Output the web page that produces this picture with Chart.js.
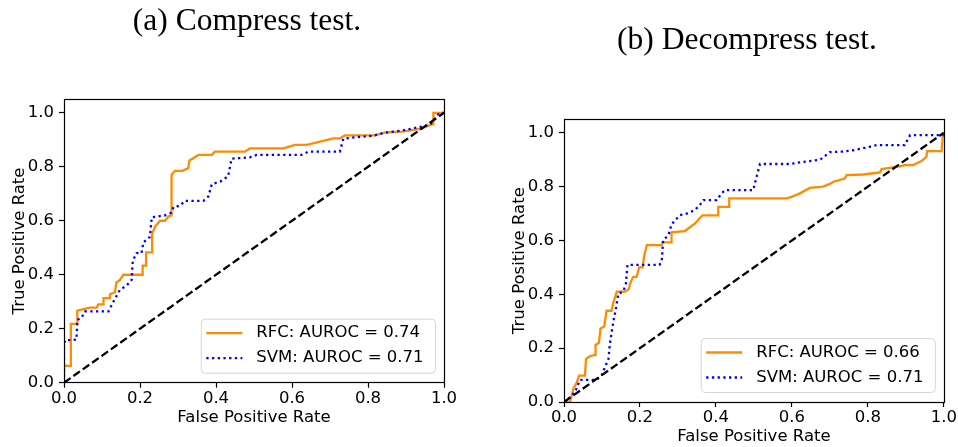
<!DOCTYPE html>
<html>
<head>
<meta charset="utf-8">
<script src="https://cdn.jsdelivr.net/npm/chart.js@4.4.1/dist/chart.umd.min.js"></script>
<style>
  body { margin: 0; background: #fff; width: 958px; height: 447px; overflow: hidden; }
  .title { position: absolute; width: 400px; text-align: center; font-family: "Liberation Serif", serif; font-size: 31.5px; line-height: 31px; color: #000; z-index: 2; }
  .box { position: absolute; top: 0; width: 479px; height: 447px; }
</style>
</head>
<body>
<div class="title" style="left:47px;top:4px">(a) Compress test.</div>
<div class="title" style="left:547px;top:23px">(b) Decompress test.</div>
<div class="box" style="left:0"><canvas id="chartA"></canvas></div>
<div class="box" style="left:479px"><canvas id="chartB"></canvas></div>
<script>
// ROC curves (false positive rate / true positive rate)
const compressRfcFpr = [0, 0, 0.018, 0.018, 0.035, 0.035, 0.068, 0.086, 0.09, 0.104, 0.104, 0.121, 0.121, 0.134, 0.138, 0.147, 0.156, 0.207, 0.207, 0.216, 0.216, 0.232, 0.232, 0.240, 0.253, 0.266, 0.275, 0.283, 0.283, 0.292, 0.312, 0.327, 0.33, 0.354, 0.389, 0.397, 0.476, 0.489, 0.577, 0.608, 0.639, 0.709, 0.726, 0.739, 0.818, 0.849, 0.889, 0.937, 0.968, 0.972, 0.972, 1.0];
const compressRfcTpr = [0, 0.062, 0.062, 0.218, 0.218, 0.267, 0.278, 0.278, 0.29, 0.29, 0.313, 0.313, 0.328, 0.335, 0.372, 0.38, 0.40, 0.40, 0.434, 0.434, 0.483, 0.483, 0.552, 0.579, 0.60, 0.60, 0.616, 0.62, 0.771, 0.785, 0.785, 0.795, 0.823, 0.844, 0.844, 0.856, 0.856, 0.868, 0.868, 0.881, 0.881, 0.905, 0.905, 0.916, 0.916, 0.928, 0.93, 0.94, 0.957, 0.957, 1.0, 1.0];
const compressSvmFpr = [0, 0, 0.003, 0.02, 0.033, 0.035, 0.046, 0.055, 0.117, 0.13, 0.147, 0.165, 0.178, 0.181, 0.191, 0.204, 0.209, 0.226, 0.231, 0.266, 0.283, 0.288, 0.305, 0.318, 0.367, 0.38, 0.389, 0.411, 0.432, 0.441, 0.489, 0.507, 0.625, 0.643, 0.726, 0.735, 0.77, 0.814, 0.84, 0.893, 0.928, 0.963, 0.981, 0.989, 1.0];
const compressSvmTpr = [0, 0.14, 0.158, 0.158, 0.16, 0.233, 0.24, 0.264, 0.264, 0.30, 0.344, 0.36, 0.381, 0.452, 0.48, 0.48, 0.52, 0.54, 0.613, 0.62, 0.63, 0.651, 0.655, 0.674, 0.674, 0.69, 0.736, 0.745, 0.765, 0.83, 0.835, 0.844, 0.844, 0.856, 0.856, 0.904, 0.91, 0.915, 0.925, 0.935, 0.945, 0.955, 0.988, 1.0, 1.0];

const decompressRfcFpr = [0, 0.016, 0.025, 0.033, 0.04, 0.055, 0.058, 0.068, 0.082, 0.083, 0.092, 0.096, 0.106, 0.112, 0.125, 0.13, 0.139, 0.161, 0.171, 0.174, 0.182, 0.191, 0.198, 0.207, 0.211, 0.218, 0.257, 0.260, 0.283, 0.283, 0.318, 0.345, 0.364, 0.406, 0.406, 0.435, 0.435, 0.586, 0.599, 0.621, 0.647, 0.682, 0.70, 0.709, 0.739, 0.744, 0.788, 0.832, 0.836, 0.884, 0.897, 0.919, 0.941, 0.954, 0.956, 0.994, 0.998, 1.0];
const decompressRfcTpr = [0, 0, 0.051, 0.07, 0.098, 0.098, 0.16, 0.17, 0.175, 0.212, 0.22, 0.273, 0.28, 0.339, 0.339, 0.369, 0.41, 0.41, 0.42, 0.44, 0.465, 0.465, 0.5, 0.5, 0.542, 0.583, 0.583, 0.593, 0.593, 0.63, 0.635, 0.663, 0.693, 0.693, 0.725, 0.725, 0.756, 0.756, 0.762, 0.775, 0.795, 0.80, 0.81, 0.818, 0.83, 0.843, 0.845, 0.853, 0.865, 0.875, 0.88, 0.88, 0.895, 0.91, 0.932, 0.932, 1.0, 1.0];
const decompressSvmFpr = [0, 0.007, 0.02, 0.033, 0.042, 0.086, 0.099, 0.108, 0.117, 0.121, 0.130, 0.137, 0.143, 0.156, 0.163, 0.167, 0.251, 0.257, 0.261, 0.275, 0.283, 0.305, 0.323, 0.34, 0.354, 0.367, 0.402, 0.415, 0.424, 0.498, 0.507, 0.516, 0.595, 0.621, 0.647, 0.674, 0.70, 0.735, 0.761, 0.796, 0.823, 0.897, 0.911, 1.0];
const decompressSvmTpr = [0, 0.01, 0.02, 0.05, 0.082, 0.082, 0.1, 0.13, 0.16, 0.218, 0.30, 0.35, 0.402, 0.41, 0.44, 0.509, 0.509, 0.52, 0.601, 0.62, 0.66, 0.694, 0.70, 0.71, 0.725, 0.75, 0.75, 0.775, 0.787, 0.787, 0.837, 0.884, 0.884, 0.89, 0.895, 0.90, 0.928, 0.93, 0.935, 0.945, 0.954, 0.954, 0.991, 0.991];

const chanceLine = [0, 1];
const xTicks = [0, 0.2, 0.4, 0.6, 0.8, 1.0];
const yTicks = [0, 0.2, 0.4, 0.6, 0.8, 1.0];
const labelsA = ['RFC: AUROC = 0.74', 'SVM: AUROC = 0.71'];
const labelsB = ['RFC: AUROC = 0.66', 'SVM: AUROC = 0.71'];

const FONT = '"DejaVu Sans", sans-serif';
const SIZE = 16.5;

function toPoints(xs, ys) {
  return xs.map((x, i) => ({ x: x, y: ys[i] }));
}

// black box round the plot area, like matplotlib spines
const frame = {
  id: 'frame',
  afterDatasetsDraw(chart) {
    const a = chart.chartArea;
    const ctx = chart.ctx;
    ctx.save();
    ctx.strokeStyle = '#000';
    ctx.lineWidth = 1.2;
    ctx.strokeRect(Math.round(a.left) + 0.5, Math.round(a.top) + 0.5, Math.round(a.width), Math.round(a.height));
    ctx.restore();
  }
};

// legend drawn inside the lower right corner of the plot
const insideLegend = {
  id: 'insideLegend',
  afterDraw(chart) {
    const ctx = chart.ctx;
    const a = chart.chartArea;
    const items = chart.data.datasets.filter(d => d.label);
    ctx.save();
    ctx.font = SIZE + 'px ' + FONT;
    const textW = Math.max(...items.map(d => ctx.measureText(d.label).width));
    const w = 55 + textW + 12, h = 54;
    const x0 = a.right - 8.5 - w, y0 = a.bottom - 9.5 - h;
    ctx.beginPath();
    ctx.roundRect(x0, y0, w, h, 4);
    ctx.fillStyle = 'rgba(255,255,255,0.8)';
    ctx.fill();
    ctx.strokeStyle = 'rgba(204,204,204,0.8)';
    ctx.lineWidth = 1;
    ctx.stroke();
    items.forEach((d, i) => {
      const y = y0 + 14 + i * 25;
      ctx.beginPath();
      ctx.setLineDash(d.borderDash || []);
      ctx.strokeStyle = d.borderColor;
      ctx.lineWidth = d.borderWidth;
      ctx.moveTo(x0 + 5, y);
      ctx.lineTo(x0 + 41, y);
      ctx.stroke();
      ctx.setLineDash([]);
      ctx.fillStyle = '#000';
      ctx.textBaseline = 'middle';
      ctx.textAlign = 'left';
      ctx.fillText(d.label, x0 + 55, y);
    });
    ctx.restore();
  }
};

function makeChart(id, rfcX, rfcY, svmX, svmY, labels, pad) {
  const ctx = document.getElementById(id).getContext('2d');
  return new Chart(ctx, {
    type: 'line',
    data: {
      datasets: [
        {
          label: labels[0],
          data: toPoints(rfcX, rfcY),
          borderColor: '#ff8c00',
          borderWidth: 2.3,
          order: 3
        },
        {
          label: labels[1],
          data: toPoints(svmX, svmY),
          borderColor: '#0000ff',
          borderWidth: 2.3,
          borderDash: [2.3, 3.4],
          order: 2
        },
        {
          data: toPoints(chanceLine, chanceLine),
          borderColor: '#000',
          borderWidth: 2.3,
          borderDash: [8, 3.5],
          order: 1
        }
      ]
    },
    options: {
      responsive: true,
      maintainAspectRatio: false,
      animation: false,
      layout: { padding: pad },
      elements: { point: { radius: 0 }, line: { tension: 0, fill: false } },
      plugins: { legend: { display: false }, tooltip: { enabled: false } },
      scales: {
        x: {
          type: 'linear',
          min: 0,
          max: 1,
          afterBuildTicks: s => { s.ticks = xTicks.map(v => ({ value: v })); },
          afterFit: s => { s.height = 45; },
          border: { display: false },
          grid: { drawOnChartArea: false, color: '#000', tickLength: 5, tickWidth: 1.2 },
          ticks: { color: '#000', padding: 1, maxRotation: 0, font: { family: FONT, size: SIZE }, callback: v => v.toFixed(1) },
          title: { display: true, text: 'False Positive Rate', color: '#000', padding: { top: 2, bottom: 0 }, font: { family: FONT, size: SIZE } }
        },
        y: {
          type: 'linear',
          min: 0,
          max: 1.05,
          afterBuildTicks: s => { s.ticks = yTicks.map(v => ({ value: v })); },
          afterFit: s => { s.width = 64; },
          border: { display: false },
          grid: { drawOnChartArea: false, color: '#000', tickLength: 5, tickWidth: 1.2 },
          ticks: { color: '#000', padding: 5, font: { family: FONT, size: SIZE }, callback: v => v.toFixed(1) },
          title: { display: true, text: 'True Positive Rate', color: '#000', padding: { top: 10, bottom: 0 }, font: { family: FONT, size: SIZE } }
        }
      }
    },
    plugins: [frame, insideLegend]
  });
}

makeChart('chartA', compressRfcFpr, compressRfcTpr, compressSvmFpr, compressSvmTpr, labelsA,
  { top: 99.3, right: 35, bottom: 19.3, left: 0 });
makeChart('chartB', decompressRfcFpr, decompressRfcTpr, decompressSvmFpr, decompressSvmTpr, labelsB,
  { top: 119.3, right: 14, bottom: 0, left: 21 });
</script>
</body>
</html>
